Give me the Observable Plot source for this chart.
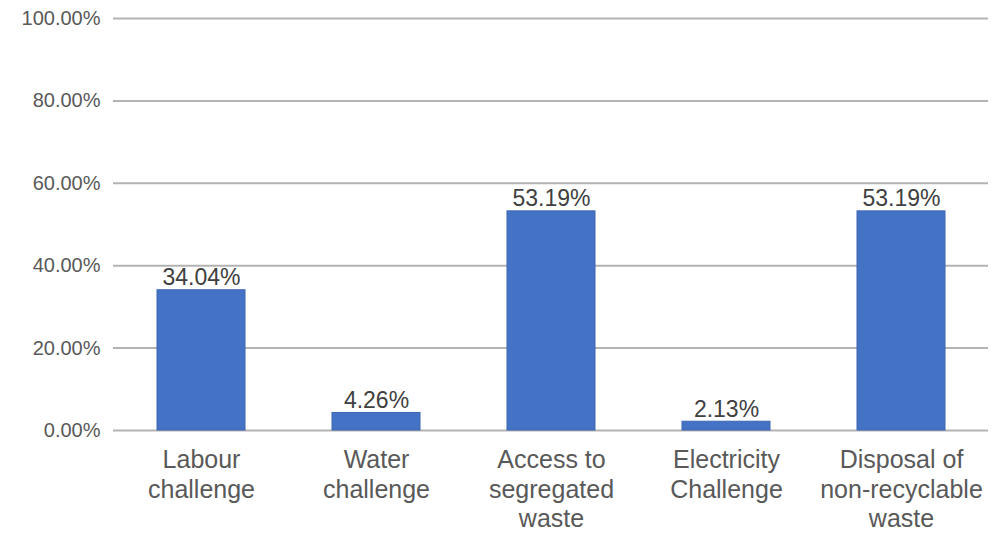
<!DOCTYPE html>
<html>
<head>
<meta charset="utf-8">
<script src="https://cdn.jsdelivr.net/npm/d3@7"></script>
<script src="https://cdn.jsdelivr.net/npm/@observablehq/plot@0.6"></script>
<style>
  html, body { margin: 0; padding: 0; background: #fff; }
  #chart svg { display: block; }
</style>
</head>
<body>
<div id="chart"></div>
<script>
const categories = ["Labour challenge", "Water challenge", "Access to segregated waste", "Electricity Challenge", "Disposal of non-recyclable waste"];
const tickLabels = ["Labour\nchallenge", "Water\nchallenge", "Access to\nsegregated\nwaste", "Electricity\nChallenge", "Disposal of\nnon-recyclable\nwaste"];
const values = [0.3404, 0.0426, 0.5319, 0.0213, 0.5319];
const yTicks = [0, 0.2, 0.4, 0.6, 0.8, 1.0];

const data = categories.map((c, i) => ({category: c, value: values[i], label: tickLabels[i]}));
const labelOf = new Map(categories.map((c, i) => [c, tickLabels[i]]));
const fmt = d3.format(".2%");

const chart = Plot.plot({
  width: 992,
  height: 533,
  marginLeft: 113,
  marginRight: 4,
  marginTop: 18,
  marginBottom: 103,
  style: {fontFamily: "'Liberation Sans', Arial, sans-serif", background: "#fff"},
  x: {domain: categories, paddingInner: 0.5, paddingOuter: 0.25, label: null},
  y: {domain: [0, 1], label: null},
  marks: [
    Plot.gridY(yTicks, {stroke: "#b3b3b3", strokeOpacity: 1, strokeWidth: 2}),
    Plot.axisY(yTicks, {tickSize: 0, tickPadding: 13, tickFormat: fmt, fontSize: 20, fill: "#595959", style: {letterSpacing: "1.2px"}}),
    Plot.axisX({tickSize: 0, tickPadding: 17, tickFormat: d => labelOf.get(d), fontSize: 25, lineHeight: 1.18, fill: "#595959", lineAnchor: "top", style: {letterSpacing: "0.4px"}}),
    Plot.barY(data, {x: "category", y: "value", fill: "#4472C4", stroke: "#3d66b3", strokeWidth: 1}),
    Plot.text(data, {x: "category", y: "value", text: d => fmt(d.value), lineAnchor: "bottom", dy: -5, fontSize: 23, fill: "#404040", style: {letterSpacing: "1.3px"}})
  ]
});
document.getElementById("chart").appendChild(chart);
</script>
</body>
</html>
